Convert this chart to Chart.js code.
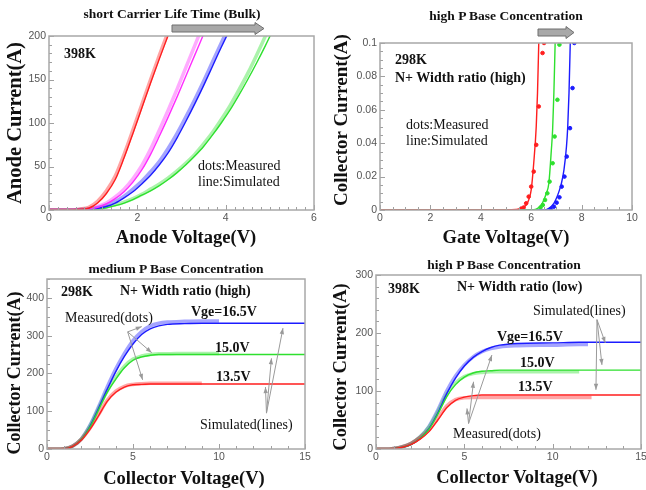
<!DOCTYPE html>
<html lang="en">

<head>
    <meta charset="UTF-8">
    <title>IGBT I-V characteristics</title>
    <script src="https://cdn.jsdelivr.net/npm/chart.js"></script>
    <style>
        body {
            margin: 0;
            width: 646px;
            height: 490px;
            background: #ffffff;
            position: relative;
            overflow: hidden;
            font-family: 'Liberation Serif', 'Times New Roman', serif;
        }

        canvas {
            position: absolute;
        }

        svg {
            position: absolute;
            left: 0;
            top: 0;
        }

        .t {
            position: absolute;
            white-space: nowrap;
            line-height: 1;
            color: #111;
            font-size: 14px;
        }

        .b { font-weight: bold; }
        .c { transform: translate(-50%, -50%); }
        .l { transform: translate(0, -50%); }
        .v { transform: translate(-50%, -50%) rotate(-90deg); }
        .ax { font-weight: bold; font-size: 18.5px; }
    </style>
</head>

<body>
    <canvas id="anodeChart" width="313" height="204" style="left:9px;top:24px"></canvas>
    <canvas id="gateChart" width="300" height="197" style="left:340px;top:31px"></canvas>
    <canvas id="mediumChart" width="306" height="200" style="left:7px;top:267px"></canvas>
    <canvas id="highChart" width="313" height="204" style="left:336px;top:263px"></canvas>

    <svg width="646" height="490">
        <polygon points="172,25 255,25 255,22.5 264,28.5 255,34.5 255,32 172,32" fill="#a8a8a8" stroke="#6f6f6f" stroke-width="1"/>
        <polygon points="538,29 566,29 566,26.5 574,32.5 566,38.5 566,36 538,36" fill="#a8a8a8" stroke="#6f6f6f" stroke-width="1"/>
    </svg>

    <!-- panel 1 -->
    <div class="t b c" style="left:172px;top:14px;font-size:13.5px">short Carrier Life Time (Bulk)</div>
    <div class="t b l" style="left:64px;top:54px">398K</div>
    <div class="t l" style="left:198px;top:166px">dots:Measured</div>
    <div class="t l" style="left:198px;top:182px">line:Simulated</div>
    <div class="t ax v" style="left:14px;top:123px;font-size:20.5px">Anode Current(A)</div>
    <div class="t ax c" style="left:186px;top:237px">Anode Voltage(V)</div>

    <!-- panel 2 -->
    <div class="t b c" style="left:506px;top:16px;font-size:13.5px">high P Base Concentration</div>
    <div class="t b l" style="left:395px;top:60px">298K</div>
    <div class="t b l" style="left:395px;top:78px">N+ Width ratio (high)</div>
    <div class="t l" style="left:406px;top:125px">dots:Measured</div>
    <div class="t l" style="left:406px;top:141px">line:Simulated</div>
    <div class="t ax v" style="left:340px;top:120px;font-size:19px">Collector Current(A)</div>
    <div class="t ax c" style="left:506px;top:237px">Gate Voltage(V)</div>

    <!-- panel 3 -->
    <div class="t b c" style="left:176px;top:269px;font-size:13.5px">medium P Base Concentration</div>
    <div class="t b l" style="left:61px;top:292px">298K</div>
    <div class="t b l" style="left:120px;top:291px">N+ Width ratio (high)</div>
    <div class="t b l" style="left:191px;top:312px">Vge=16.5V</div>
    <div class="t b l" style="left:215px;top:348px">15.0V</div>
    <div class="t b l" style="left:216px;top:377px">13.5V</div>
    <div class="t l" style="left:65px;top:318px">Measured(dots)</div>
    <div class="t l" style="left:200px;top:425px">Simulated(lines)</div>
    <div class="t ax v" style="left:14px;top:373px;font-size:18px">Collector Current(A)</div>
    <div class="t ax c" style="left:184px;top:478px">Collector Voltage(V)</div>

    <!-- panel 4 -->
    <div class="t b c" style="left:504px;top:265px;font-size:13.5px">high P Base Concentration</div>
    <div class="t b l" style="left:388px;top:289px">398K</div>
    <div class="t b l" style="left:457px;top:287px">N+ Width ratio (low)</div>
    <div class="t l" style="left:533px;top:311px">Simulated(lines)</div>
    <div class="t b l" style="left:497px;top:337px">Vge=16.5V</div>
    <div class="t b l" style="left:520px;top:363px">15.0V</div>
    <div class="t b l" style="left:518px;top:387px">13.5V</div>
    <div class="t l" style="left:453px;top:434px">Measured(dots)</div>
    <div class="t ax v" style="left:340px;top:367px;font-size:18.5px">Collector Current(A)</div>
    <div class="t ax c" style="left:517px;top:477px">Collector Voltage(V)</div>

    <script>
        // ---- panel 1: anode I-V, short carrier life time ----
        const anodeXTicks = [0, 6, 2];      // min, max, step
        const anodeYTicks = [0, 200, 50];
        const anodeV = [0, 0.5, 0.7, 0.9, 1.1, 1.3, 1.5, 1.7, 1.9, 2.1, 2.3, 2.5, 2.7, 2.9, 3.1, 3.3, 3.5, 3.7, 3.9, 4.1, 4.3, 4.5, 4.7, 4.9, 5.1];
        const anodeRedSim = [0, 0, 0.5, 2, 8, 19, 35, 60, 88, 117, 146, 174, 201, 229, null, null, null, null, null, null, null, null, null, null, null];
        const anodeRedMeas = [0, 0, 1, 3, 10, 22, 39, 64, 92, 121, 150, 178, 205, 232, null, null, null, null, null, null, null, null, null, null, null];
        const anodeMagSim = [0, 0, 0, 1, 3, 7, 13, 21, 32, 46, 64, 85, 107, 130, 154, 178, 202, null, null, null, null, null, null, null, null];
        const anodeMagMeas = [0, 0, 0.5, 1.5, 4, 8, 15, 24, 36, 51, 70, 92, 115, 139, 164, 189, 214, null, null, null, null, null, null, null, null];
        const anodeBlueSim = [0, 0, 0, 0.5, 2, 4, 8, 14, 21, 30, 40, 52, 66, 83, 102, 122, 143, 165, 187, 208, null, null, null, null, null];
        const anodeBlueMeas = [0, 0, 0.5, 1, 3, 6, 10, 16, 24, 33, 44, 56, 71, 88, 107, 127, 148, 170, 192, 214, null, null, null, null, null];
        const anodeGreenSim = [0, 0, 0, 0.3, 1, 2.5, 5, 8, 12, 17, 22, 28, 35, 43, 52, 62, 73, 86, 100, 115, 132, 150, 169, 189, 210];
        const anodeGreenMeas = [0, 0, 0.5, 1, 2, 3.5, 6, 9, 13, 18, 24, 30, 37, 45, 54, 64, 76, 89, 104, 120, 138, 157, 178, 200, 222];

        // ---- panel 2: transfer curve, high P base ----
        const gateXTicks = [0, 10, 2];
        const gateYTicks = [0, 0.1, 0.02];
        const gateRedSimV = [0, 5.0, 5.4, 5.6, 5.8, 5.9, 6.0, 6.1, 6.2, 6.25, 6.3, 6.35];
        const gateRedSimI = [0, 0, 0.0003, 0.001, 0.003, 0.006, 0.012, 0.028, 0.05, 0.07, 0.1, 0.13];
        const gateGreenSimV = [0, 6.0, 6.2, 6.4, 6.5, 6.6, 6.7, 6.8, 6.85, 6.9, 6.95, 7.0];
        const gateGreenSimI = [0, 0, 0.0005, 0.003, 0.006, 0.01, 0.016, 0.036, 0.048, 0.07, 0.1, 0.13];
        const gateBlueSimV = [0, 6.5, 6.7, 6.9, 7.0, 7.1, 7.2, 7.3, 7.4, 7.45, 7.5, 7.55, 7.6];
        const gateBlueSimI = [0, 0, 0.001, 0.004, 0.007, 0.011, 0.016, 0.024, 0.038, 0.05, 0.07, 0.1, 0.13];
        const gateRedMeasV = [5.6, 5.7, 5.8, 5.9, 6.0, 6.1, 6.2, 6.3, 6.45, 6.51];
        const gateRedMeasI = [0.0008, 0.0015, 0.004, 0.008, 0.014, 0.023, 0.039, 0.062, 0.094, 0.1];
        const gateGreenMeasV = [6.37, 6.46, 6.55, 6.64, 6.73, 6.85, 6.93, 7.04, 7.12];
        const gateGreenMeasI = [0.0015, 0.003, 0.006, 0.010, 0.017, 0.028, 0.044, 0.066, 0.099];
        const gateBlueMeasV = [6.77, 6.9, 7.01, 7.12, 7.21, 7.32, 7.41, 7.54, 7.64, 7.71];
        const gateBlueMeasI = [0.0006, 0.002, 0.0044, 0.0076, 0.014, 0.020, 0.032, 0.049, 0.073, 0.1];

        // ---- panel 3: output curves, medium P base, 298K ----
        const medXTicks = [0, 15, 5];
        const medYTicks = [0, 450, 100, 400];   // last: highest labelled tick
        const medV = [0, 0.5, 1, 1.5, 2, 2.5, 3, 3.5, 4, 4.5, 5, 5.5, 6, 6.5, 7, 8, 9, 10, 12, 15];
        const medSim135 = [0, 0, 0.5, 7, 24, 52, 88, 126, 150, 164, 170, 171, 172, 172, 172, 172, 172, 172, 172, 172];
        const medSim150 = [0, 0, 0.5, 7, 25, 58, 104, 150, 185, 215, 235, 244, 248, 250, 250, 250, 250, 250, 250, 250];
        const medSim165 = [0, 0, 0.5, 7, 25, 60, 108, 158, 205, 245, 278, 303, 318, 326, 330, 332, 333, 333, 333, 333];
        const medMeas135 = [0, 0, 1, 8, 26, 55, 91, 129, 153, 166, 171, 173, 174, 174, 174, 174, 174, null, null, null];
        const medMeas150 = [0, 0, 1, 8, 27, 61, 108, 154, 190, 219, 238, 246, 250, 252, 252, 253, 253, 253, null, null];
        const medMeas165 = [0, 0, 1, 8, 27, 63, 112, 164, 212, 253, 287, 311, 326, 333, 336, 338, 339, 339, null, null];

        // ---- panel 4: output curves, high P base, 398K ----
        const highXTicks = [0, 15, 5];
        const highYTicks = [0, 300, 100];
        const highV = [0, 0.5, 1, 1.5, 2, 2.5, 3, 3.5, 4, 4.5, 5, 5.5, 6, 6.5, 7, 8, 10, 11.5, 12, 12.2, 15];
        const highSim135 = [0, 0, 0.5, 3, 8, 17, 30, 50, 71, 84, 89.5, 92, 93, 93, 93, 93, 93, 93, 93, 93, 93];
        const highSim150 = [0, 0, 0.5, 3, 8, 18, 34, 60, 90, 111, 124, 131, 134, 135, 136, 136, 136, 136, 136, 136, 136];
        const highSim165 = [0, 0, 0.5, 3, 8, 18, 35, 62, 95, 122, 143, 158, 168, 175, 179, 182, 183, 184, 184, 184, 184];
        const highMeas135 = [0, 0, 1, 4, 10, 20, 33, 53, 74, 85, 88.5, 89, 89, 89, 89, 89, 89, 89, 89, 89, null];
        const highMeas150 = [0, 0, 1, 4, 10, 21, 38, 64, 94, 114, 125, 130, 132, 133, 133, 133, 133, 133, null, null, null];
        const highMeas165 = [0, 0, 1, 4, 10, 21, 39, 67, 100, 126, 145, 159, 168, 173, 176, 178, 179, 180, 180, null, null];

        const RED = '#ff1e1e', MAG = '#ff2cff', BLUE = '#1c1cff', GREEN = '#2ee02e';

        function pts(xs, ys) {
            return xs.map((x, i) => ({ x: x, y: ys[i] }));
        }

        function fade(hex, a) {
            const n = parseInt(hex.slice(1), 16);
            return `rgba(${n >> 16},${(n >> 8) & 255},${n & 255},${a})`;
        }

        // simulated = thin solid line, measured = wide light band of dots
        function simLine(data, color) {
            return { data: data, showLine: true, borderColor: color, borderWidth: 1.4, pointRadius: 0, order: 1 };
        }
        function measBand(data, color) {
            return { data: data, showLine: true, borderColor: fade(color, 0.4), borderWidth: 3.5, pointRadius: 0, order: 2 };
        }
        function measDots(data, color) {
            return { data: data, showLine: false, backgroundColor: color, borderColor: color, pointRadius: 1.8, order: 2 };
        }

        // frame, inward tick marks and annotation arrows
        const framePlugin = {
            id: 'frame',
            afterDatasetsDraw(chart, args, opts) {
                const { ctx, chartArea: a, scales: { x, y } } = chart;
                ctx.save();
                ctx.strokeStyle = '#9a9a9a';
                ctx.fillStyle = '#9a9a9a';
                ctx.lineWidth = 1;
                (opts.arrows || []).forEach(ar => {
                    const x0 = x.getPixelForValue(ar.from[0]), y0 = y.getPixelForValue(ar.from[1]);
                    ar.to.forEach(t => {
                        const x1 = x.getPixelForValue(t[0]), y1 = y.getPixelForValue(t[1]);
                        ctx.beginPath(); ctx.moveTo(x0, y0); ctx.lineTo(x1, y1); ctx.stroke();
                        const ang = Math.atan2(y1 - y0, x1 - x0);
                        ctx.beginPath();
                        ctx.moveTo(x1, y1);
                        ctx.lineTo(x1 - 6 * Math.cos(ang) + 2.2 * Math.sin(ang), y1 - 6 * Math.sin(ang) - 2.2 * Math.cos(ang));
                        ctx.lineTo(x1 - 6 * Math.cos(ang) - 2.2 * Math.sin(ang), y1 - 6 * Math.sin(ang) + 2.2 * Math.cos(ang));
                        ctx.closePath();
                        ctx.fill();
                    });
                });

                ctx.strokeStyle = '#a0a0a0';
                ctx.lineWidth = 1;
                // minor ticks, bottom and left
                const xm = opts.minorX, ym = opts.minorY;
                for (let v = x.min; v <= x.max + 1e-9; v += xm) {
                    const px = Math.round(x.getPixelForValue(v)) + 0.5;
                    const major = Math.abs(v / x.options.ticks.stepSize - Math.round(v / x.options.ticks.stepSize)) < 1e-6;
                    ctx.beginPath(); ctx.moveTo(px, a.bottom); ctx.lineTo(px, a.bottom - (major ? 5 : 3)); ctx.stroke();
                }
                for (let v = y.min; v <= y.max + 1e-9; v += ym) {
                    const py = Math.round(y.getPixelForValue(v)) + 0.5;
                    const major = Math.abs(v / y.options.ticks.stepSize - Math.round(v / y.options.ticks.stepSize)) < 1e-6;
                    ctx.beginPath(); ctx.moveTo(a.left, py); ctx.lineTo(a.left + (major ? 5 : 3), py); ctx.stroke();
                }
                ctx.lineWidth = 1.5;
                ctx.strokeStyle = '#a8a8a8';
                ctx.strokeRect(a.left, a.top, a.width, a.height);
                ctx.restore();
            }
        };

        // plain labels: 0, 0.02, 0.1 ... (no padded zeros)
        function tickText(v) {
            return String(Number(v.toFixed(4)));
        }

        function makeChart(id, datasets, xt, yt, extra) {
            const tickFont = { family: "'Liberation Sans', Arial, sans-serif", size: 10.5 };
            const yLabelMax = yt.length > 3 ? yt[3] : yt[1];
            return new Chart(document.getElementById(id), {
                type: 'scatter',
                data: { datasets: datasets },
                plugins: [framePlugin],
                options: {
                    responsive: false,
                    animation: false,
                    layout: { padding: { left: 0, top: 12, right: 8, bottom: 0 } },
                    elements: { line: { cubicInterpolationMode: 'monotone' } },
                    plugins: {
                        legend: { display: false },
                        tooltip: { enabled: false },
                        frame: extra
                    },
                    scales: {
                        x: {
                            type: 'linear', min: xt[0], max: xt[1],
                            grid: { display: false, drawTicks: false }, border: { display: false },
                            ticks: {
                                stepSize: xt[2], color: '#555', font: tickFont, padding: 2, maxRotation: 0, autoSkip: false,
                                callback: v => tickText(v)
                            },
                            afterFit: s => { s.height = 18; }
                        },
                        y: {
                            type: 'linear', min: yt[0], max: yt[1],
                            grid: { display: false, drawTicks: false }, border: { display: false },
                            ticks: {
                                stepSize: yt[2], color: '#555', font: tickFont, padding: 3, autoSkip: false,
                                callback: v => v > yLabelMax + 1e-9 ? '' : tickText(v)
                            },
                            afterFit: s => { s.width = 40; }
                        }
                    }
                }
            });
        }

        makeChart('anodeChart', [
            simLine(pts(anodeV, anodeRedSim), RED), measBand(pts(anodeV, anodeRedMeas), RED),
            simLine(pts(anodeV, anodeMagSim), MAG), measBand(pts(anodeV, anodeMagMeas), MAG),
            simLine(pts(anodeV, anodeBlueSim), BLUE), measBand(pts(anodeV, anodeBlueMeas), BLUE),
            simLine(pts(anodeV, anodeGreenSim), GREEN), measBand(pts(anodeV, anodeGreenMeas), GREEN)
        ], anodeXTicks, anodeYTicks, { minorX: 0.2, minorY: 10 });

        makeChart('gateChart', [
            simLine(pts(gateRedSimV, gateRedSimI), RED), measDots(pts(gateRedMeasV, gateRedMeasI), RED),
            simLine(pts(gateGreenSimV, gateGreenSimI), GREEN), measDots(pts(gateGreenMeasV, gateGreenMeasI), GREEN),
            simLine(pts(gateBlueSimV, gateBlueSimI), BLUE), measDots(pts(gateBlueMeasV, gateBlueMeasI), BLUE)
        ], gateXTicks, gateYTicks, { minorX: 0.5, minorY: 0.005 });

        makeChart('mediumChart', [
            simLine(pts(medV, medSim135), RED), measBand(pts(medV, medMeas135), RED),
            simLine(pts(medV, medSim150), GREEN), measBand(pts(medV, medMeas150), GREEN),
            simLine(pts(medV, medSim165), BLUE), measBand(pts(medV, medMeas165), BLUE)
        ], medXTicks, medYTicks, {
            minorX: 1, minorY: 25,
            arrows: [
                { from: [4.69, 310], to: [[5.51, 324], [6.09, 255], [5.56, 183]] },
                { from: [12.76, 95], to: [[13.72, 320], [13.05, 240], [12.70, 164]] }
            ]
        });

        makeChart('highChart', [
            simLine(pts(highV, highSim135), RED), measBand(pts(highV, highMeas135), RED),
            simLine(pts(highV, highSim150), GREEN), measBand(pts(highV, highMeas150), GREEN),
            simLine(pts(highV, highSim165), BLUE), measBand(pts(highV, highMeas165), BLUE)
        ], highXTicks, highYTicks, {
            minorX: 1, minorY: 20,
            arrows: [
                { from: [5.24, 44], to: [[6.56, 162], [5.52, 116], [5.15, 70]] },
                { from: [12.51, 223], to: [[12.98, 183], [12.79, 145], [12.45, 102]] }
            ]
        });
    </script>
</body>

</html>
